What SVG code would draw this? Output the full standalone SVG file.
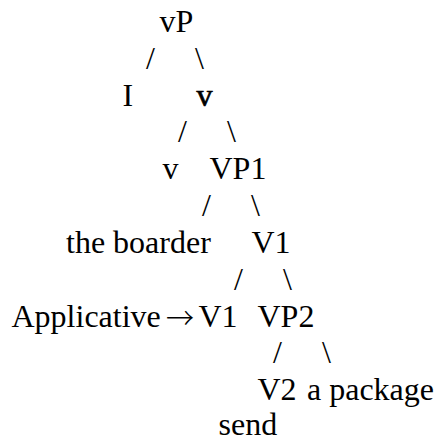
<svg xmlns="http://www.w3.org/2000/svg" width="435" height="438" viewBox="0 0 435 438">
<style>
text{font-family:"Liberation Serif","Times New Roman",serif;font-size:32px;fill:#000}
.b{stroke:#000;stroke-width:0.7}
.arr{font-family:"Noto Sans CJK SC",sans-serif;font-size:30px;font-weight:300}
</style>
<rect width="435" height="438" fill="#fff"/>
<g id="connectors">
<text x="146" y="69">/</text><text x="195" y="69">\</text>
<text x="178" y="142">/</text><text x="227" y="142">\</text>
<text x="202" y="216">/</text><text x="251" y="216">\</text>
<text x="234" y="290">/</text><text x="283" y="290">\</text>
<text x="273" y="363">/</text><text x="322" y="363">\</text>
</g>
<g id="n-vP"><text x="159.5" y="32">vP</text></g>
<g id="n-I"><text x="122.5" y="106">I</text></g>
<g id="n-v1"><text class="b" x="196.5" y="106">v</text></g>
<g id="n-v2"><text x="162.5" y="179">v</text></g>
<g id="n-VP1"><text x="209.5" y="179">VP1</text></g>
<g id="n-boarder"><text x="66" y="253">the boarder</text></g>
<g id="n-V1a"><text x="251.5" y="253">V1</text></g>
<g id="n-applicative"><text x="11.5" y="327">Applicative</text><text class="arr" x="166" y="329" textLength="28" lengthAdjust="spacingAndGlyphs">→</text><text x="198.5" y="327">V1</text></g>
<g id="n-VP2"><text x="257.5" y="327">VP2</text></g>
<g id="n-V2"><text x="257.5" y="400">V2</text></g>
<g id="n-package"><text x="307" y="400">a package</text></g>
<g id="n-send"><text x="218.5" y="435">send</text></g>
</svg>
